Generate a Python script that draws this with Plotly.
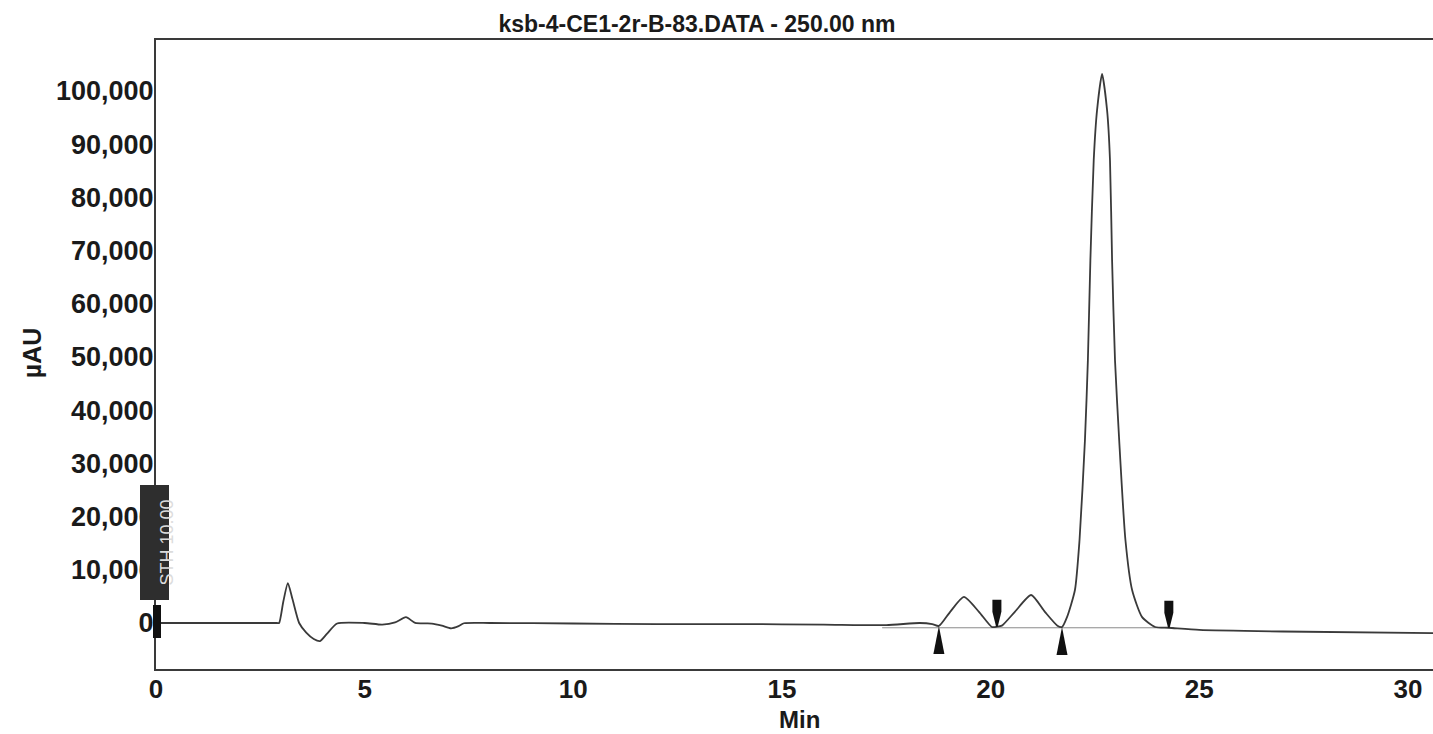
import plotly.graph_objects as go

# Chromatogram: retention time (min) against detector response (µAU)
time_min = [
    0.05, 2.90, 2.95, 3.05, 3.16, 3.27, 3.43, 3.60, 3.78, 3.93, 4.10, 4.34,
    5.00, 5.42, 5.73, 5.99, 6.21, 6.61, 6.85, 7.07, 7.25, 7.38, 8.00,
    10.0, 12.0, 14.0, 16.0, 17.5, 18.3, 18.6, 18.76,
    19.03, 19.36, 19.72, 20.03, 20.15, 20.27, 20.58, 20.97, 21.30, 21.60, 21.71,
    21.83, 22.02, 22.13, 22.26, 22.33, 22.39, 22.47, 22.55, 22.67,
    22.79, 22.86, 22.91, 22.98, 23.08, 23.23, 23.39, 23.63, 23.94,
    24.27, 25.0, 27.0, 30.65,
]
signal_uau = [
    0, 0, 0, 4000, 7500, 4500, 0, -1800, -3000, -3400, -2000, -100,
    0, -300, 100, 1100, 0, -100, -500, -1000, -600, -50, 0,
    -100, -200, -200, -300, -400, 0, -200, -560,
    2100, 4900, 2100, -750, -700, -500, 2100, 5260, 2100, -500, -750,
    1100, 6200, 15600, 34400, 49400, 68200, 87000, 96400, 103200,
    96400, 87000, 68200, 49400, 34400, 15600, 6200, 1100, -750,
    -900, -1300, -1600, -1900,
]

# Integration baseline under the peak cluster
baseline_time = [17.4, 24.4]
baseline_level = [-900, -900]

# Peak start (pointing up) and peak end (pointing down) event markers
start_times = [18.76, 21.71]
start_levels = [-560, -750]
end_times = [20.15, 24.27]
end_levels = [-700, -900]

x_ticks = [0, 5, 10, 15, 20, 25, 30]
y_ticks = [0, 10000, 20000, 30000, 40000, 50000, 60000, 70000, 80000, 90000, 100000]

FONT = "Liberation Sans"
INK = "#1a1a1a"
LINE = "#3a3a3a"

fig = go.Figure()
fig.add_trace(go.Scatter(
    x=baseline_time, y=baseline_level, mode="lines",
    line=dict(color="#8a8a8a", width=1), hoverinfo="skip", showlegend=False,
))
fig.add_trace(go.Scatter(
    x=time_min, y=signal_uau, mode="lines",
    line=dict(color=LINE, width=1.8, shape="spline", smoothing=0.6),
    showlegend=False,
))

shapes = []
up_path = "M 0 0 L -5.5 -28 L 5.5 -28 Z"
down_path = "M -4.5 27 L 4.5 27 L 4.5 15 L 0.8 0 L -0.8 0 L -4.5 15 Z"
for t, v in zip(start_times, start_levels):
    shapes.append(dict(type="path", xref="x", yref="y", xsizemode="pixel", ysizemode="pixel",
                       xanchor=t, yanchor=v, path=up_path,
                       fillcolor="#111111", line=dict(width=0)))
for t, v in zip(end_times, end_levels):
    shapes.append(dict(type="path", xref="x", yref="y", xsizemode="pixel", ysizemode="pixel",
                       xanchor=t, yanchor=v, path=down_path,
                       fillcolor="#111111", line=dict(width=0)))

# Method-event box and start bar on the response axis
shapes.append(dict(type="rect", xref="paper", yref="y", xsizemode="pixel", ysizemode="pixel",
                   xanchor=0, yanchor=0, x0=-16, x1=13, y0=23, y1=138,
                   fillcolor="#2e2e2e", line=dict(width=0), layer="above"))
shapes.append(dict(type="rect", xref="paper", yref="y", xsizemode="pixel", ysizemode="pixel",
                   xanchor=0, yanchor=0, x0=-3, x1=5, y0=-15, y1=18,
                   fillcolor="#111111", line=dict(width=0), layer="above"))

annotations = [
    dict(text="STH 10.00", xref="paper", yref="y", x=0, y=0, xshift=-1.5, yshift=80,
         textangle=-90, showarrow=False, font=dict(family=FONT, size=18, color="#dcdcdc")),
    dict(text="µAU", xref="paper", yref="paper", x=0, y=0.502, xshift=-124,
         textangle=-90, showarrow=False, xanchor="center", yanchor="middle",
         font=dict(family=FONT, size=25, color=INK, weight="bold")),
    dict(text="Min", xref="paper", yref="paper", x=0.504, y=0, yshift=-50,
         showarrow=False, xanchor="center", yanchor="middle",
         font=dict(family=FONT, size=24, color=INK, weight="bold")),
]

fig.update_layout(
    width=1433, height=734,
    margin=dict(l=156, r=0, t=40, b=65),
    paper_bgcolor="white", plot_bgcolor="white",
    title=dict(text="ksb-4-CE1-2r-B-83.DATA - 250.00 nm", xref="container", yref="container",
               x=0.4864, y=0.968, xanchor="center", yanchor="middle",
               font=dict(family=FONT, size=23, color=INK, weight="bold")),
    xaxis=dict(range=[0, 30.6], tickvals=x_ticks, showline=True, mirror=True,
               linecolor=LINE, linewidth=2, ticks="", showgrid=False, zeroline=False,
               ticklabelstandoff=-4,
               tickfont=dict(family=FONT, size=26, color=INK, weight="bold")),
    yaxis=dict(range=[-8650, 109590], tickvals=y_ticks, tickformat=",d",
               showline=True, linecolor=LINE, linewidth=2, ticks="",
               showgrid=False, zeroline=False, ticklabelstandoff=-5,
               tickfont=dict(family=FONT, size=27, color=INK, weight="bold")),
    shapes=shapes,
    annotations=annotations,
)

fig.write_html("out.html")
